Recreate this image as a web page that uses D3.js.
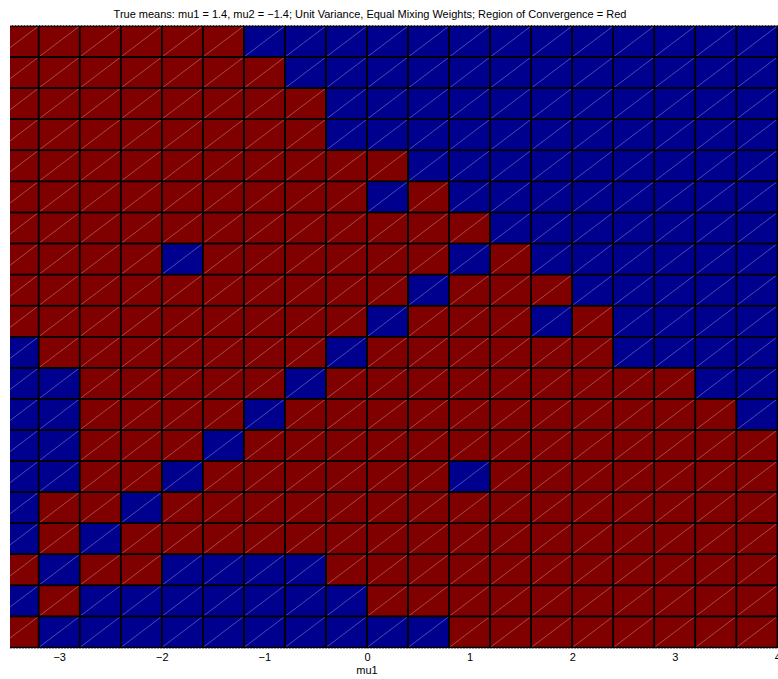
<!DOCTYPE html>
<html>
<head>
<meta charset="utf-8">
<script src="https://cdn.jsdelivr.net/npm/d3@7"></script>
<style>
  html, body { margin: 0; padding: 0; background: #fff; overflow: hidden; }
  svg { display: block; font-family: "Liberation Sans", Arial, Helvetica, sans-serif; }
</style>
</head>
<body>
<svg id="chart" width="778" height="679"></svg>
<script>
// Initial mu1 values (cell centres, x axis)
const mu1Values = [-3.4, -3.0, -2.6, -2.2, -1.8, -1.4, -1.0, -0.6, -0.2, 0.2, 0.6, 1.0, 1.4, 1.8, 2.2, 2.6, 3.0, 3.4, 3.8];
// Initial mu2 values (cell centres, top row first)
const mu2Values = [3.8, 3.4, 3.0, 2.6, 2.2, 1.8, 1.4, 1.0, 0.6, 0.2, -0.2, -0.6, -1.0, -1.4, -1.8, -2.2, -2.6, -3.0, -3.4, -3.8];
const cellStep = 0.4;
// 1 = EM converged to the true means (red), 0 = did not (blue); one row per mu2 value
const converged = [
  [1,1,1,1,1,1,0,0,0,0,0,0,0,0,0,0,0,0,0],
  [1,1,1,1,1,1,1,0,0,0,0,0,0,0,0,0,0,0,0],
  [1,1,1,1,1,1,1,1,0,0,0,0,0,0,0,0,0,0,0],
  [1,1,1,1,1,1,1,1,0,0,0,0,0,0,0,0,0,0,0],
  [1,1,1,1,1,1,1,1,1,1,0,0,0,0,0,0,0,0,0],
  [1,1,1,1,1,1,1,1,1,0,1,0,0,0,0,0,0,0,0],
  [1,1,1,1,1,1,1,1,1,1,1,1,0,0,0,0,0,0,0],
  [1,1,1,1,0,1,1,1,1,1,1,0,1,0,0,0,0,0,0],
  [1,1,1,1,1,1,1,1,1,1,0,1,1,1,0,0,0,0,0],
  [1,1,1,1,1,1,1,1,1,0,1,1,1,0,1,0,0,0,0],
  [0,1,1,1,1,1,1,1,0,1,1,1,1,1,1,0,0,0,0],
  [0,0,1,1,1,1,1,0,1,1,1,1,1,1,1,1,1,0,0],
  [0,0,1,1,1,1,0,1,1,1,1,1,1,1,1,1,1,1,0],
  [0,0,1,1,1,0,1,1,1,1,1,1,1,1,1,1,1,1,1],
  [0,0,1,1,0,1,1,1,1,1,1,0,1,1,1,1,1,1,1],
  [0,1,1,0,1,1,1,1,1,1,1,1,1,1,1,1,1,1,1],
  [0,1,0,1,1,1,1,1,1,1,1,1,1,1,1,1,1,1,1],
  [1,0,1,1,0,0,0,0,1,1,1,1,1,1,1,1,1,1,1],
  [0,1,0,0,0,0,0,0,0,1,1,1,1,1,1,1,1,1,1],
  [1,0,0,0,0,0,0,0,0,0,0,1,1,1,1,1,1,1,1]
];
const xTicks = [-3, -2, -1, 0, 1, 2, 3, 4];
const titleText = "True means: mu1 = 1.4, mu2 = \u22121.4; Unit Variance, Equal Mixing Weights; Region of Convergence = Red";
const xLabel = "mu1";

const colorRed = "#800000";
const colorBlue = "#00008f";

const svg = d3.select("#chart");
const plot = { left: 10, right: 778, top: 26, bottom: 647.5 };
const fontFamily = "'Liberation Sans', Arial, Helvetica, sans-serif";

// x: 102.6 px per unit, 0 at x = 367
const x = d3.scaleLinear().domain([-3.6, 4.0]).range([-2.4, 777.4]);
const y = d3.scaleLinear().domain([-4.0, 4.0]).range([plot.bottom, plot.top]);

svg.append("defs").append("clipPath").attr("id", "plotClip")
  .append("rect")
  .attr("x", plot.left).attr("y", plot.top - 1)
  .attr("width", plot.right - plot.left).attr("height", plot.bottom - plot.top + 2);

const cells = [];
mu2Values.forEach((m2, r) => {
  mu1Values.forEach((m1, c) => {
    cells.push({ m1, m2, v: converged[r][c] });
  });
});

const g = svg.append("g").attr("clip-path", "url(#plotClip)");
const half = cellStep / 2;

// cell fills
g.selectAll("rect.cell").data(cells).join("rect")
  .attr("class", "cell")
  .attr("x", d => x(d.m1 - half))
  .attr("y", d => y(d.m2 + half))
  .attr("width", d => x(d.m1 + half) - x(d.m1 - half))
  .attr("height", d => y(d.m2 - half) - y(d.m2 + half))
  .attr("fill", d => d.v ? colorRed : colorBlue);

// faint triangle-split diagonals
g.selectAll("line.diag").data(cells).join("line")
  .attr("class", "diag")
  .attr("x1", d => x(d.m1 - half)).attr("y1", d => y(d.m2 - half))
  .attr("x2", d => x(d.m1 + half)).attr("y2", d => y(d.m2 + half))
  .attr("stroke", "#ffffff").attr("stroke-opacity", 0.42).attr("stroke-width", 0.7);

// black cell edges
g.selectAll("rect.edge").data(cells).join("rect")
  .attr("class", "edge")
  .attr("x", d => x(d.m1 - half))
  .attr("y", d => y(d.m2 + half))
  .attr("width", d => x(d.m1 + half) - x(d.m1 - half))
  .attr("height", d => y(d.m2 - half) - y(d.m2 + half))
  .attr("fill", "none")
  .attr("stroke", "#000").attr("stroke-width", 1.5);

// light box lines along top and bottom
[plot.top - 0.5, plot.bottom + 1].forEach(yy => {
  svg.append("line")
    .attr("x1", plot.left).attr("x2", plot.right)
    .attr("y1", yy).attr("y2", yy)
    .attr("stroke", "#999").attr("stroke-width", 1)
    .attr("stroke-dasharray", "2,1");
});

// x axis labels
const axis = d3.axisBottom(x)
  .tickValues(xTicks)
  .tickSize(0)
  .tickPadding(6)
  .tickFormat(d => d < 0 ? "\u2212" + Math.abs(d) : String(d));
const ax = svg.append("g").attr("transform", `translate(0,${plot.bottom})`).call(axis);
ax.select(".domain").remove();
ax.selectAll("text").attr("font-size", 11).attr("fill", "#000")
  .attr("font-family", fontFamily);

svg.append("text")
  .attr("x", x(0)).attr("y", 674)
  .attr("text-anchor", "middle")
  .attr("font-size", 11)
  .attr("font-family", fontFamily)
  .text(xLabel);

svg.append("text")
  .attr("x", x(0) + 3).attr("y", 18)
  .attr("text-anchor", "middle")
  .attr("font-size", 11)
  .attr("font-family", fontFamily)
  .text(titleText);
</script>
</body>
</html>
